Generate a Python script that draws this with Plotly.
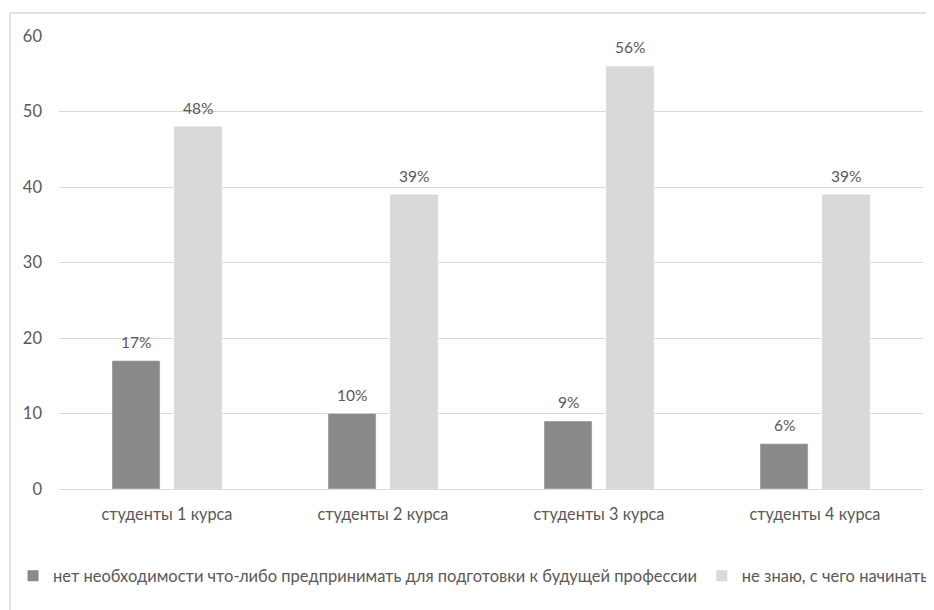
import plotly.graph_objects as go

categories = ["студенты 1 курса", "студенты 2 курса", "студенты 3 курса", "студенты 4 курса"]
series1_name = "нет необходимости что-либо предпринимать для подготовки к будущей профессии"
series1 = [17, 10, 9, 6]
series2_name = "не знаю, с чего начинать"
series2 = [48, 39, 56, 39]
y_ticks = [0, 10, 20, 30, 40, 50, 60]

FONT = "Lato"
TXT = "#595959"
C1 = "#898989"
C2 = "#d9d9d9"

fig = go.Figure()
fig.add_trace(go.Bar(x=categories, y=series1, name=series1_name, marker_color=C1,
                     offsetgroup="a", showlegend=False))
fig.add_trace(go.Bar(x=categories, y=series2, name=series2_name, marker_color=C2,
                     offsetgroup="b", showlegend=False))
# legend entries with small square icons
fig.add_trace(go.Scatter(x=[None], y=[None], mode="markers", name=series1_name,
                         marker=dict(symbol="square", size=11, color=C1), legend="legend"))
fig.add_trace(go.Scatter(x=[None], y=[None], mode="markers", name=series2_name,
                         marker=dict(symbol="square", size=11, color=C2), legend="legend2"))

annotations = []
for vals, shift in ((series1, -31), (series2, 31)):
    for c, v in zip(categories, vals):
        annotations.append(dict(x=c, y=v, xref="x", yref="y", text=f"{v}%",
                                showarrow=False, yanchor="bottom", xshift=shift, yshift=8,
                                font=dict(size=15.5, color=TXT, family=FONT)))

leg_common = dict(orientation="h", y=-0.192, yanchor="middle", xanchor="left",
                  font=dict(size=16.5, color=TXT, family=FONT), bgcolor="rgba(0,0,0,0)")

fig.update_layout(
    width=934, height=610,
    margin=dict(l=51, r=19, t=28, b=129, autoexpand=False),
    paper_bgcolor="white", plot_bgcolor="white",
    barmode="group", bargap=0.426, bargroupgap=0.226,
    font=dict(family=FONT, color=TXT, size=16),
    showlegend=True,
    legend=dict(x=-0.0532, **leg_common),
    legend2=dict(x=0.744, **leg_common),
    xaxis=dict(showgrid=False, showline=False, ticks="", ticklabelstandoff=14,
               tickfont=dict(size=16.3, color=TXT)),
    yaxis=dict(range=[0, 60], tickvals=y_ticks, showgrid=True, gridcolor="#d9d9d9",
               gridwidth=1.3, zeroline=True, zerolinecolor="#d9d9d9", zerolinewidth=1.3,
               showline=False, ticks="", ticklabelstandoff=16,
               tickfont=dict(size=16.5, color=TXT)),
    annotations=annotations,
    shapes=[dict(type="rect", xref="paper", yref="paper",
                 x0=-0.0567, x1=1.2, y0=-0.35, y1=1.0508,
                 line=dict(color="#d9d9d9", width=1.5), fillcolor="rgba(0,0,0,0)", layer="below")],
)

fig.write_html("out.html")
